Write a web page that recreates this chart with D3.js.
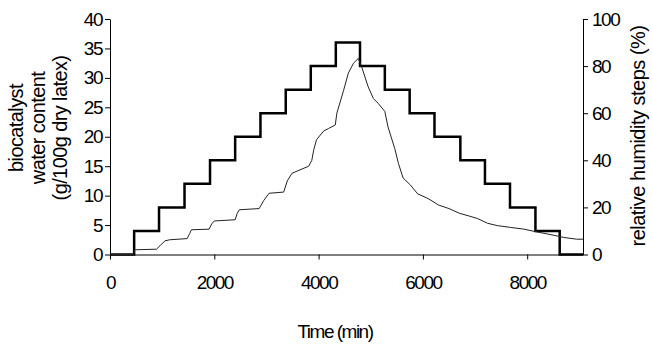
<!DOCTYPE html>
<html>
<head>
<meta charset="utf-8">
<script src="https://cdn.jsdelivr.net/npm/d3@7"></script>
<style>
  body { margin: 0; background: #fff; }
  svg text { font-family: "Liberation Sans", Arial, sans-serif; fill: #000; }
</style>
</head>
<body>
<div class="graphic"></div>
<script>
// relative humidity steps (right axis, %)
const rhTimes = [0, 463, 940, 1429, 1918, 2400, 2885, 3370, 3850, 4330, 4794, 5270, 5746, 6222, 6718, 7190, 7670, 8158, 8623, 9070];
const rhLevels = [0, 10, 20, 30, 40, 50, 60, 70, 80, 90, 80, 70, 60, 50, 40, 30, 20, 10, 0];

// biocatalyst water content (left axis, g/100g dry latex)
const wcTimes = [0, 463, 470, 890, 960, 1050, 1143, 1480, 1530, 1560, 1900, 1950, 2000, 2400, 2440, 2480, 2860, 2950, 3050, 3330, 3400, 3490, 3810, 3870, 3905, 3960, 4100, 4190, 4320, 4350, 4480, 4570, 4670, 4762, 4825, 4950, 5050, 5140, 5270, 5330, 5460, 5530, 5620, 5760, 5900, 6100, 6300, 6500, 6700, 6900, 7050, 7240, 7430, 7680, 7940, 8150, 8380, 8600, 8700, 8950, 9070];
const wcValues = [0, 0, 0.8, 0.9, 1.5, 2.3, 2.5, 2.7, 3.6, 4.2, 4.3, 5.2, 5.7, 5.9, 7.0, 7.6, 7.8, 9.2, 10.4, 10.6, 12.5, 13.8, 15.0, 16.0, 17.7, 19.5, 21.0, 21.4, 22.0, 24.0, 27.9, 30.8, 32.5, 33.3, 31.9, 28.5, 26.5, 25.7, 24.3, 21.7, 18.0, 15.5, 13.0, 11.8, 10.3, 9.5, 8.4, 7.8, 7.0, 6.5, 6.1, 5.3, 4.9, 4.6, 4.3, 3.9, 3.5, 3.1, 2.9, 2.6, 2.6];

const xTicks = [0, 2000, 4000, 6000, 8000];
const leftTicks = [0, 5, 10, 15, 20, 25, 30, 35, 40];
const rightTicks = [0, 20, 40, 60, 80, 100];

const width = 652, height = 345;
const margin = {top: 19, right: 69, bottom: 90.5, left: 110};

const svg = d3.select('.graphic')
  .append('svg')
  .attr('width', width)
  .attr('height', height);

const x = d3.scaleLinear().domain([0, 9070]).range([margin.left, width - margin.right]);
const yL = d3.scaleLinear().domain([0, 40]).range([height - margin.bottom, margin.top]);
const yR = d3.scaleLinear().domain([0, 100]).range([height - margin.bottom, margin.top]);

const numStyle = function(g) {
  g.selectAll('text')
    .style('font-size', '19px')
    .style('letter-spacing', '-1.5px')
    .style('font-family', '"Liberation Sans", Arial, sans-serif');
  g.selectAll('line, path').attr('stroke', '#000').attr('stroke-width', 1);
};

svg.append('g')
  .attr('transform', 'translate(0,' + yL(0) + ')')
  .call(d3.axisBottom(x).tickValues(xTicks).tickSize(5).tickSizeOuter(0).tickPadding(16).tickFormat(d3.format('d')))
  .call(numStyle);

svg.append('g')
  .attr('transform', 'translate(' + x(0) + ',0)')
  .call(d3.axisLeft(yL).tickValues(leftTicks).tickSize(5).tickSizeOuter(0).tickPadding(3))
  .call(numStyle);

svg.append('g')
  .attr('transform', 'translate(' + x(9070) + ',0)')
  .call(d3.axisRight(yR).tickValues(rightTicks).tickSize(5).tickSizeOuter(0).tickPadding(4))
  .call(numStyle);

// step line for relative humidity
const stepPts = [];
rhLevels.forEach(function(lv, i) {
  stepPts.push([rhTimes[i], lv]);
  stepPts.push([rhTimes[i + 1], lv]);
});
svg.append('path')
  .datum(stepPts)
  .attr('fill', 'none')
  .attr('stroke', '#000')
  .attr('stroke-width', 2.5)
  .attr('d', d3.line().x(d => x(d[0])).y(d => yR(d[1])));

// water content curve
svg.append('path')
  .datum(wcTimes.map((t, i) => [t, wcValues[i]]))
  .attr('fill', 'none')
  .attr('stroke', '#222')
  .attr('stroke-width', 1)
  .attr('d', d3.line().x(d => x(d[0])).y(d => yL(d[1])));

// axis titles
const leftTitle = ['biocatalyst', 'water content', '(g/100g dry latex)'];
leftTitle.forEach(function(s, i) {
  svg.append('text')
    .attr('transform', 'translate(' + (23 + i * 22) + ',128) rotate(-90)')
    .attr('text-anchor', 'middle')
    .style('font-size', '20px')
    .style('letter-spacing', '-0.6px')
    .text(s);
});

svg.append('text')
  .attr('transform', 'translate(645,136) rotate(-90)')
  .attr('text-anchor', 'middle')
  .style('font-size', '20px')
  .style('letter-spacing', '-0.5px')
  .text('relative humidity steps (%)');

svg.append('text')
  .attr('x', 335)
  .attr('y', 338)
  .attr('text-anchor', 'middle')
  .style('font-size', '19px')
  .style('letter-spacing', '-1.5px')
  .text('Time (min)');
</script>
</body>
</html>
